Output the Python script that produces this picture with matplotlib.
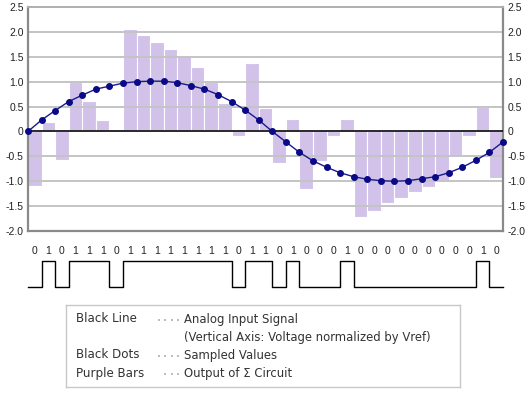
import numpy as np
import matplotlib
matplotlib.use("Agg")
import matplotlib.pyplot as plt

# analog input sampled at each step (dots), 36 samples
signal = [0, 0.23, 0.42, 0.60, 0.73, 0.85, 0.91, 0.97, 1.0, 1.01, 1.01, 0.98,
          0.92, 0.85, 0.74, 0.60, 0.43, 0.23, 0, -0.21, -0.42, -0.59, -0.72,
          -0.83, -0.91, -0.96, -0.99, -1.0, -0.99, -0.95, -0.91, -0.83, -0.72,
          -0.58, -0.42, -0.21]

# output of the sigma circuit (bars), one per interval
sigma_out = [-1.09, 0.19, -0.58, 1.0, 0.62, 0.23, 0, 2.05, 1.93, 1.79, 1.66,
             1.51, 1.30, 1.0, 0.58, -0.09, 1.38, 0.48, -0.63, 0.25, -1.16,
             -0.59, -0.09, 0.24, -1.72, -1.59, -1.44, -1.33, -1.22, -1.11,
             -1.02, -0.5, -0.09, 0.5, -0.93]

# 1-bit output stream
bits = [0, 1, 0, 1, 1, 1, 0, 1, 1, 1, 1, 1, 1, 1, 1, 0, 1, 1, 0, 1, 0, 0, 0,
        1, 0, 0, 0, 0, 0, 0, 0, 0, 0, 1, 0]

yticks = [-2.0, -1.5, -1.0, -0.5, 0, 0.5, 1.0, 1.5, 2.0, 2.5]
ytick_labels = ["-2.0", "-1.5", "-1.0", "-0.5", "0", "0.5", "1.0", "1.5", "2.0", "2.5"]

legend_keys = ["Black Line", "", "Black Dots", "Purple Bars"]
legend_vals = ["Analog Input Signal", "(Vertical Axis: Voltage normalized by Vref)",
               "Sampled Values", "Output of \u03a3 Circuit"]
leader_dots = [4, 0, 4, 3]

W, H = 530, 397
fig = plt.figure(figsize=(W / 100, H / 100), dpi=100)

def px_axes(x0, y0, x1, y1):
    # axes from pixel box (top-left origin)
    return fig.add_axes([x0 / W, 1 - y1 / H, (x1 - x0) / W, (y1 - y0) / H])

tick_font = dict(family="Liberation Sans", size=7.5, color="#222222")

# main chart
ax = px_axes(28, 7, 503, 231)
n = len(sigma_out)
ax.bar(np.arange(n), sigma_out, width=1.0, align="edge", color="#d2c2ea",
       edgecolor="white", linewidth=0.8, zorder=1)
for y in yticks:
    ax.axhline(y, color="#c4c4c4", linewidth=1.4, zorder=2)
ax.axhline(0, color="black", linewidth=1.1, zorder=3)
ax.plot(np.arange(len(signal)), signal, color="#1a1a8c", linewidth=1.0,
        marker="o", markersize=4, markerfacecolor="#0a0a88",
        markeredgecolor="#0a0a88", zorder=4, clip_on=False)
ax.set_xlim(0, n)
ax.set_ylim(-2.0, 2.5)
ax.set_xticks([])
ax.set_yticks(yticks)
ax.set_yticklabels(ytick_labels, fontdict=tick_font)
ax.tick_params(axis="y", length=0, labelright=True)
for side in ["left", "right", "top", "bottom"]:
    ax.spines[side].set_color("#8a8a8a")
    ax.spines[side].set_linewidth(1.6)
ax.spines["top"].set_color("#b0b0b0")
ax.spines["top"].set_linewidth(1.4)
ax.tick_params(axis="y", which="both", right=False, left=False, pad=3)

# bit stream below
bx = px_axes(28, 240, 503, 295)
bx.set_xlim(0, n)
bx.set_ylim(55, 0)
bx.axis("off")
level = [47 if b == 0 else 21 for b in bits]
bx.step(np.arange(n + 1), level + [level[-1]], where="post", color="black",
        linewidth=1.0, clip_on=False)
for i, b in enumerate(bits):
    bx.text(i + 0.5, 11, str(b), ha="center", va="center", **tick_font)

# legend box
lx = px_axes(66, 305, 460, 387)
lx.set_xlim(66, 460)
lx.set_ylim(387, 305)
lx.set_xticks([])
lx.set_yticks([])
for side in lx.spines.values():
    side.set_color("#c8c8c8")
    side.set_linewidth(1.0)
row_y = [319, 337, 355, 373]
for key, val, nd, y in zip(legend_keys, legend_vals, leader_dots, row_y):
    if key:
        lx.text(76, y, key, ha="left", va="center", fontsize=8.6,
                family="DejaVu Sans", color="#333333")
        xs = [178 - 6.5 * j for j in range(nd)]
        lx.plot(xs, [y + 0.5] * nd, "s", markersize=1.6, color="#bdbdbd",
                markeredgewidth=0)
    lx.text(184, y, val, ha="left", va="center", fontsize=8.4,
            family="DejaVu Sans", color="#333333")

fig.savefig("out.png", dpi=100)
